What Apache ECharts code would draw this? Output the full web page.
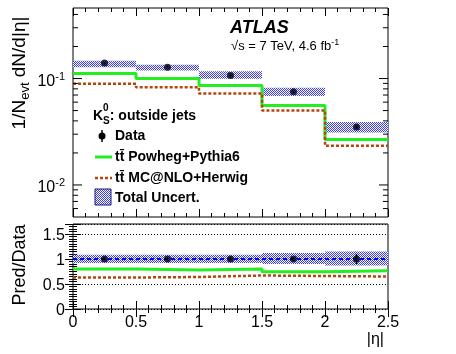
<!DOCTYPE html>
<html>
<head>
<meta charset="utf-8">
<script src="https://cdn.jsdelivr.net/npm/echarts@6/dist/echarts.min.js"></script>
<style>
  html, body { margin: 0; padding: 0; background: #fff; }
  #chart { width: 456px; height: 354px; }
</style>
</head>
<body>
<div id="chart"></div>
<script>
(function(){

// bin edges in |eta|
var edges = [0, 0.5, 1, 1.5, 2, 2.5];
var centers = [0.25, 0.75, 1.25, 1.75, 2.25];

// 1/N dN/d|eta|
var dataVals = [0.140, 0.128, 0.107, 0.075, 0.0351];
var dataErr  = [0.002, 0.002, 0.002, 0.0015, 0.0012];
var uncLo    = [0.128, 0.119, 0.0993, 0.0684, 0.0311];
var uncHi    = [0.147, 0.135, 0.117, 0.0819, 0.0390];
var powheg   = [0.1114, 0.100, 0.0860, 0.0559, 0.0267];
var mcatnlo  = [0.0892, 0.0830, 0.0724, 0.0502, 0.0233];

// Pred/Data
var ratioPowheg  = [0.80, 0.78, 0.80, 0.746, 0.766];
var ratioMcatnlo = [0.63, 0.64, 0.67, 0.66, 0.65];
var ratioUncLo   = [0.92, 0.92, 0.92, 0.90, 0.87];
var ratioUncHi   = [1.086, 1.086, 1.086, 1.12, 1.15];
var ratioErr     = [0.02, 0.02, 0.025, 0.04, 0.1];

// axis labels
var logMajor = [0.01, 0.1];
var logMinor = [0.006, 0.007, 0.008, 0.009, 0.02, 0.03, 0.04, 0.05, 0.06, 0.07, 0.08, 0.09, 0.2, 0.3, 0.4];
var ratioTicks = ['0', '0.5', '1', '1.5'];

var FONT = '"Liberation Sans", Arial, Helvetica, sans-serif';
var GREEN = '#22ee22';
var BROWN = '#b5450e';
var HATCH = '#3b3bff';

// hatch pattern for the uncertainty band
var pc = document.createElement('canvas');
pc.width = 4; pc.height = 4;
var px = pc.getContext('2d');
px.fillStyle = '#ffffff';
px.fillRect(0, 0, 4, 4);
px.fillStyle = HATCH;
for (var i = 0; i < 4; i++) { px.fillRect(i, i, 1, 1); px.fillRect((i + 2) % 4, i, 1, 1); }
var hatchFill = { image: pc, repeat: 'repeat' };

function steps(vals) {
    var out = [];
    for (var i = 0; i < vals.length; i++) out.push([edges[i], vals[i]]);
    out.push([edges[edges.length - 1], vals[vals.length - 1]]);
    return out;
}
function bandData(lo, hi) {
    return lo.map(function(v, i){ return [edges[i], edges[i + 1], v, hi[i]]; });
}
function errData(vals, err) {
    return vals.map(function(v, i){ return [centers[i], v - err[i], v + err[i]]; });
}

function renderBand(params, api) {
    var p0 = api.coord([api.value(0), api.value(3)]);
    var p1 = api.coord([api.value(1), api.value(2)]);
    return {
        type: 'rect',
        shape: { x: p0[0], y: p0[1], width: p1[0] - p0[0], height: p1[1] - p0[1] },
        style: { fill: hatchFill }
    };
}
function renderErr(params, api) {
    var a = api.coord([api.value(0), api.value(1)]);
    var b = api.coord([api.value(0), api.value(2)]);
    return {
        type: 'line',
        shape: { x1: a[0], y1: a[1], x2: b[0], y2: b[1] },
        style: { stroke: '#000', lineWidth: 1.5 }
    };
}
function renderLogTick(params, api) {
    var len = api.value(2) ? 9 : 5;
    var l = api.coord([0, api.value(1)]);
    var r = api.coord([2.5, api.value(1)]);
    return {
        type: 'group',
        children: [
            { type: 'line', shape: { x1: l[0], y1: l[1], x2: l[0] + len, y2: l[1] }, style: { stroke: '#000', lineWidth: 1 } },
            { type: 'line', shape: { x1: r[0] - len, y1: r[1], x2: r[0], y2: r[1] }, style: { stroke: '#000', lineWidth: 1 } }
        ]
    };
}
var logTickData = logMajor.map(function(v){ return [0, v, 1]; })
    .concat(logMinor.map(function(v){ return [0, v, 0]; }));

function xAxisDef(grid, pos, labels) {
    return {
        type: 'value', gridIndex: grid, position: pos, min: 0, max: 2.5, interval: 0.5,
        axisLine: { show: false },
        axisTick: { show: true, inside: true, length: 8, lineStyle: { color: '#000' } },
        minorTick: { show: true, splitNumber: 5, length: 4, lineStyle: { color: '#000' } },
        splitLine: { show: false },
        axisLabel: labels ? {
            show: true, color: '#000', fontFamily: FONT, fontSize: 16, margin: 6,
            formatter: function(v){ return String(v); }
        } : { show: false }
    };
}
function ratioYDef(pos) {
    return {
        type: 'value', gridIndex: 1, position: pos, min: 0, max: 1.7, interval: 0.5,
        axisLine: { show: false },
        axisTick: { show: true, inside: true, length: 8, lineStyle: { color: '#000' } },
        minorTick: { show: true, splitNumber: 10, length: 4, lineStyle: { color: '#000' } },
        splitLine: pos === 'left' ? { show: true, lineStyle: { color: '#000', type: [1, 2], width: 1 } } : { show: false },
        axisLabel: { show: false }
    };
}

var chart = echarts.init(document.getElementById('chart'), null, { renderer: 'canvas' });

var option = {
    animation: false,
    backgroundColor: '#fff',
    grid: [
        { left: 73, top: 8, width: 315, height: 209, show: true, borderColor: '#000', borderWidth: 1, backgroundColor: 'transparent' },
        { left: 73, top: 224, width: 315, height: 85, show: true, borderColor: '#000', borderWidth: 1, backgroundColor: 'transparent' }
    ],
    xAxis: [
        xAxisDef(0, 'bottom', false),
        xAxisDef(0, 'top', false),
        xAxisDef(1, 'bottom', true),
        xAxisDef(1, 'top', false)
    ],
    yAxis: [
        {
            type: 'log', gridIndex: 0, min: 0.005, max: 0.46, logBase: 10,
            axisLine: { show: false }, axisTick: { show: false },
            axisLabel: { show: false }, splitLine: { show: false }
        },
        ratioYDef('left'),
        ratioYDef('right')
    ],
    series: [
        {
            type: 'custom', xAxisIndex: 0, yAxisIndex: 0, renderItem: renderBand,
            data: bandData(uncLo, uncHi), z: 1
        },
        {
            type: 'line', xAxisIndex: 0, yAxisIndex: 0, step: 'end', symbol: 'none',
            lineStyle: { color: GREEN, width: 3 }, data: steps(powheg), z: 2
        },
        {
            type: 'line', xAxisIndex: 0, yAxisIndex: 0, step: 'end', symbol: 'none',
            lineStyle: { color: BROWN, width: 2.5, type: [3, 2] }, data: steps(mcatnlo), z: 2
        },
        {
            type: 'custom', xAxisIndex: 0, yAxisIndex: 0, renderItem: renderErr,
            data: errData(dataVals, dataErr), z: 3
        },
        {
            type: 'scatter', xAxisIndex: 0, yAxisIndex: 0, symbol: 'circle', symbolSize: 7,
            itemStyle: { color: '#000' }, data: centers.map(function(c, i){ return [c, dataVals[i]]; }), z: 4
        },
        {
            type: 'custom', xAxisIndex: 0, yAxisIndex: 0, renderItem: renderLogTick,
            data: logTickData, z: 5, silent: true
        },
        // ratio panel
        {
            type: 'custom', xAxisIndex: 2, yAxisIndex: 1, renderItem: renderBand,
            data: bandData(ratioUncLo, ratioUncHi), z: 1
        },
        {
            type: 'line', xAxisIndex: 2, yAxisIndex: 1, symbol: 'none',
            lineStyle: { color: '#0000ee', width: 2, type: [4, 3] },
            data: [[0, 1], [2.5, 1]], z: 2
        },
        {
            type: 'line', xAxisIndex: 2, yAxisIndex: 1, step: 'end', symbol: 'none',
            lineStyle: { color: GREEN, width: 3 }, data: steps(ratioPowheg), z: 2
        },
        {
            type: 'line', xAxisIndex: 2, yAxisIndex: 1, step: 'end', symbol: 'none',
            lineStyle: { color: BROWN, width: 2.5, type: [3, 2] }, data: steps(ratioMcatnlo), z: 2
        },
        {
            type: 'custom', xAxisIndex: 2, yAxisIndex: 1, renderItem: renderErr,
            data: errData(centers.map(function(){ return 1; }), ratioErr), z: 3
        },
        {
            type: 'scatter', xAxisIndex: 2, yAxisIndex: 1, symbol: 'circle', symbolSize: 7,
            itemStyle: { color: '#000' }, data: centers.map(function(c){ return [c, 1]; }), z: 4
        }
    ]
};
chart.setOption(option);

// texts placed from the axis scales
var g = [];
logMajor.forEach(function(v){
    var p = chart.convertToPixel({ xAxisIndex: 0, yAxisIndex: 0 }, [0, v]);
    g.push({
        type: 'text', x: p[0] - 8, y: p[1] + 3, style: {
            text: '{b|10}{s|' + Math.round(Math.log10(v)) + '}',
            align: 'right', verticalAlign: 'middle',
            rich: {
                b: { fontFamily: FONT, fontSize: 16, fill: '#000', lineHeight: 20 },
                s: { fontFamily: FONT, fontSize: 11, fill: '#000', verticalAlign: 'top', lineHeight: 20, padding: [0, 0, 8, 0] }
            }
        }
    });
});
ratioTicks.forEach(function(t){
    var p = chart.convertToPixel({ xAxisIndex: 2, yAxisIndex: 1 }, [0, +t]);
    g.push({ type: 'text', x: p[0] - 8, y: p[1] + 2, style: {
        text: t, align: 'right', verticalAlign: 'middle', fontFamily: FONT, fontSize: 16, fill: '#000'
    }});
});

// axis titles
g.push({
    type: 'text', x: 20, y: 73, rotation: Math.PI / 2, style: {
        text: '{m|1/N}{s|evt}{m| dN/d|η|}', align: 'center', verticalAlign: 'middle',
        rich: {
            m: { fontFamily: FONT, fontSize: 19, fill: '#000', lineHeight: 24 },
            s: { fontFamily: FONT, fontSize: 13, fill: '#000', lineHeight: 24, verticalAlign: 'bottom', padding: [9, 0, 0, 0] }
        }
    }
});
g.push({ type: 'text', x: 20, y: 265, rotation: Math.PI / 2, style: {
    text: 'Pred/Data', align: 'center', verticalAlign: 'middle', fontFamily: FONT, fontSize: 18, fill: '#000'
}});
g.push({ type: 'text', x: 384, y: 340, style: {
    text: '|η|', align: 'right', verticalAlign: 'middle', fontFamily: FONT, fontSize: 16, fill: '#000'
}});

// ATLAS label
g.push({ type: 'text', x: 230, y: 28, style: {
    text: 'ATLAS', verticalAlign: 'middle', fontFamily: FONT, fontSize: 18, fontWeight: 'bold', fontStyle: 'italic', fill: '#000'
}});
g.push({ type: 'text', x: 231, y: 46, style: {
    text: '{m|√s = 7 TeV, 4.6 fb}{s|-1}', verticalAlign: 'middle',
    rich: {
        m: { fontFamily: FONT, fontSize: 13, fill: '#000', lineHeight: 16 },
        s: { fontFamily: FONT, fontSize: 9, fill: '#000', lineHeight: 16, verticalAlign: 'top', padding: [0, 0, 6, 0] }
    }
}});

// legend
g.push({ type: 'text', x: 93, y: 116, style: {
    text: '{m|K}{s|S}{m|: outside jets}', verticalAlign: 'middle',
    rich: {
        m: { fontFamily: FONT, fontSize: 14, fontWeight: 'bold', fill: '#000', lineHeight: 20 },
        s: { fontFamily: FONT, fontSize: 10, fontWeight: 'bold', fill: '#000', lineHeight: 20, verticalAlign: 'bottom', padding: [6, 0, 0, 0] }
    }
}});
g.push({ type: 'text', x: 103, y: 108, style: { text: '0', fontFamily: FONT, fontSize: 10, fontWeight: 'bold', fill: '#000', verticalAlign: 'middle' } });
g.push({ type: 'circle', shape: { cx: 102, cy: 136, r: 3.5 }, style: { fill: '#000' } });
g.push({ type: 'line', shape: { x1: 102, y1: 130, x2: 102, y2: 142 }, style: { stroke: '#000', lineWidth: 1.5 } });
g.push({ type: 'line', shape: { x1: 95, y1: 157, x2: 112, y2: 157 }, style: { stroke: GREEN, lineWidth: 3 } });
g.push({ type: 'line', shape: { x1: 95, y1: 178, x2: 112, y2: 178 }, style: { stroke: BROWN, lineWidth: 2.5, lineDash: [3, 2] } });
g.push({ type: 'rect', shape: { x: 95, y: 189, width: 16, height: 16 }, style: { fill: hatchFill, stroke: '#1a1a66', lineWidth: 1 } });
var legTexts = [['Data', 136], ['tt̄ Powheg+Pythia6', 157], ['tt̄ MC@NLO+Herwig', 178], ['Total Uncert.', 198]];
legTexts.forEach(function(t){
    g.push({ type: 'text', x: 115, y: t[1], style: {
        text: t[0], verticalAlign: 'middle', fontFamily: FONT, fontSize: 14, fontWeight: 'bold', fill: '#000'
    }});
});

chart.setOption({ graphic: g });

})();
</script>
</body>
</html>
